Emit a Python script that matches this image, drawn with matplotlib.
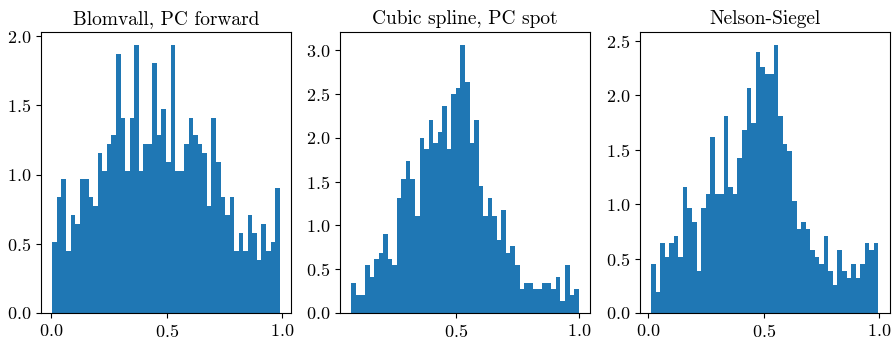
import numpy as np
import matplotlib
matplotlib.use("Agg")
import matplotlib.pyplot as plt
from matplotlib.ticker import MultipleLocator

plt.rcParams["font.family"] = "cmr10"
plt.rcParams["mathtext.fontset"] = "cm"
plt.rcParams["axes.formatter.use_mathtext"] = True

# density heights per bin, 50 bins each
titles = ["Blomvall, PC forward", "Cubic spline, PC spot", "Nelson-Siegel"]
ranges = [(0.005, 0.988), (0.078, 0.997), (0.0115, 0.997)]

blomvall = [0.516, 0.837, 0.966, 0.451, 0.707, 0.645, 0.966, 0.966, 0.837, 0.772,
            1.153, 1.024, 1.218, 1.283, 1.868, 1.412, 1.024, 1.412, 1.933, 1.024,
            1.218, 1.218, 1.803, 1.283, 1.477, 1.089, 1.933, 1.024, 1.024, 1.218,
            1.412, 1.283, 1.218, 1.153, 0.772, 1.412, 1.089, 0.837, 0.707, 0.837,
            0.451, 0.580, 0.451, 0.707, 0.580, 0.386, 0.645, 0.451, 0.516, 0.902]

spline = [0.345, 0.209, 0.209, 0.546, 0.413, 0.614, 0.683, 0.900, 0.614, 0.546,
          1.312, 1.524, 1.729, 1.524, 1.107, 2.000, 1.870, 2.207, 1.938, 2.070,
          2.360, 1.870, 2.495, 2.563, 3.053, 2.632, 1.938, 2.207, 1.449, 1.107,
          1.312, 1.107, 0.834, 1.172, 0.683, 0.766, 0.546, 0.276, 0.345, 0.345,
          0.276, 0.276, 0.345, 0.345, 0.276, 0.413, 0.140, 0.546, 0.209, 0.276]

nelson = [0.449, 0.195, 0.644, 0.516, 0.644, 0.708, 0.516, 1.160, 0.965, 0.836,
          0.388, 0.965, 1.096, 1.615, 1.096, 1.096, 1.807, 1.160, 1.096, 1.422,
          1.679, 2.064, 1.743, 2.393, 2.256, 2.195, 2.195, 2.457, 1.807, 1.551,
          1.487, 1.029, 0.772, 0.836, 0.772, 0.580, 0.516, 0.449, 0.708, 0.388,
          0.260, 0.580, 0.388, 0.324, 0.449, 0.324, 0.449, 0.644, 0.580, 0.644]

series = [blomvall, spline, nelson]

fig = plt.figure(figsize=(8.96, 3.43), dpi=100)
lefts = [0.0458, 0.3795, 0.714]
for left, title, rng, heights in zip(lefts, titles, ranges, series):
    ax = fig.add_axes([left, 0.0875, 0.279, 0.819])
    edges = np.linspace(rng[0], rng[1], len(heights) + 1)
    centers = (edges[:-1] + edges[1:]) / 2
    ax.hist(centers, bins=edges, weights=heights, color="#1f77b4")
    ax.set_title(title, fontsize=14)
    ax.xaxis.set_major_locator(MultipleLocator(0.5))
    ax.yaxis.set_major_locator(MultipleLocator(0.5))
    ax.tick_params(labelsize=13)

fig.savefig("out.png", dpi=100)
